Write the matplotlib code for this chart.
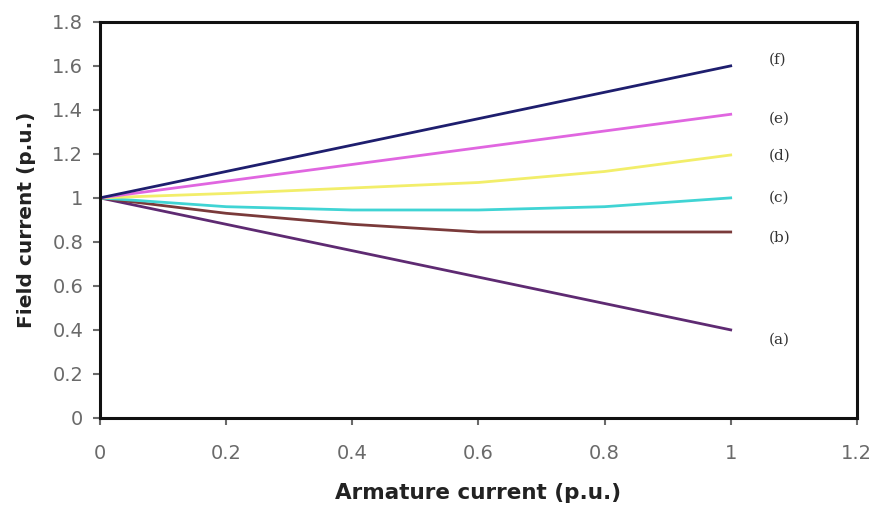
import numpy as np
import matplotlib.pyplot as plt

armature = [0, 0.2, 0.4, 0.6, 0.8, 1.0]

field_a = [1.0, 0.88, 0.76, 0.64, 0.52, 0.40]
field_b = [1.0, 0.93, 0.88, 0.845, 0.845, 0.845]
field_c = [1.0, 0.96, 0.945, 0.945, 0.96, 1.0]
field_d = [1.0, 1.02, 1.045, 1.07, 1.12, 1.195]
field_e = [1.0, 1.076, 1.152, 1.228, 1.304, 1.38]
field_f = [1.0, 1.12, 1.24, 1.36, 1.48, 1.60]

labels = ["(a)", "(b)", "(c)", "(d)", "(e)", "(f)"]
label_y = [0.355, 0.82, 1.0, 1.19, 1.36, 1.63]

series = [field_a, field_b, field_c, field_d, field_e, field_f]
colors = ["#5e2a72", "#7a3a3a", "#40d4d4", "#f2ee6a", "#e066e0", "#1e1e6e"]

fig = plt.figure(figsize=(8.73, 5.09), dpi=100)
ax = fig.add_axes([0.1145, 0.179, 0.867, 0.778])

for ys, c in zip(series, colors):
    ax.plot(armature, ys, color=c, lw=2)

for lab, y in zip(labels, label_y):
    ax.text(1.06, y, lab, fontsize=11, color="#333333", va="center", ha="left",
            family="DejaVu Serif")

ax.set_xlim(0, 1.2)
ax.set_ylim(0, 1.8)
ax.set_xticks(np.arange(0, 1.21, 0.2))
ax.set_xticklabels(["0", "0.2", "0.4", "0.6", "0.8", "1", "1.2"])
ax.set_yticks(np.arange(0, 1.81, 0.2))
ax.set_yticklabels(["0", "0.2", "0.4", "0.6", "0.8", "1", "1.2", "1.4", "1.6", "1.8"])
ax.tick_params(labelsize=14, colors="#6a6a6a", length=5, width=1.5, pad=7)
ax.tick_params(axis="x", pad=14)
for s in ax.spines.values():
    s.set_linewidth(2.2)
    s.set_color("#111111")

ax.set_xlabel("Armature current (p.u.)", fontsize=15.5, fontweight="bold", color="#222222",
              family="DejaVu Sans", labelpad=14)
ax.set_ylabel("Field current (p.u.)", fontsize=14.5, fontweight="bold", color="#222222",
              family="DejaVu Sans", labelpad=12)

plt.savefig("out.png", dpi=100)
